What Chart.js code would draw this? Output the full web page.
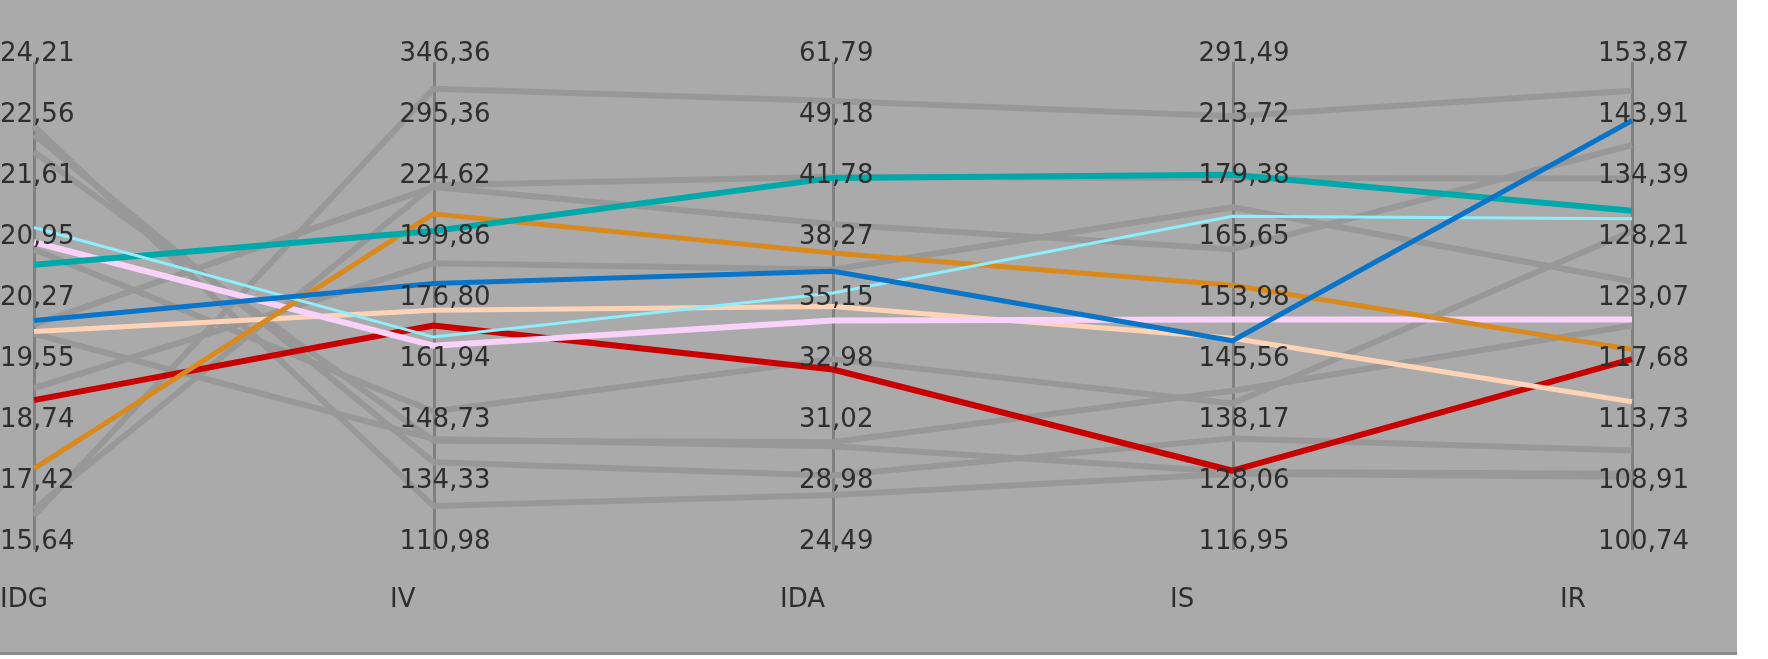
<!DOCTYPE html>
<html><head><meta charset="utf-8">
<script src="https://cdn.jsdelivr.net/npm/chart.js@4/dist/chart.umd.min.js"></script>
<style>html,body{margin:0;padding:0;background:#fff;}canvas{display:block;}</style>
</head><body>
<canvas id="c" width="1768" height="659"></canvas>
<script>
// ---- categories (parallel axes) ----
const categories = ['IDG', 'IV', 'IDA', 'IS', 'IR'];

// ---- tick labels on each axis (top to bottom) ----
const ticksIDG = [24.21, 22.56, 21.61, 20.95, 20.27, 19.55, 18.74, 17.42, 15.64];
const ticksIV  = [346.36, 295.36, 224.62, 199.86, 176.80, 161.94, 148.73, 134.33, 110.98];
const ticksIDA = [61.79, 49.18, 41.78, 38.27, 35.15, 32.98, 31.02, 28.98, 24.49];
const ticksIS  = [291.49, 213.72, 179.38, 165.65, 153.98, 145.56, 138.17, 128.06, 116.95];
const ticksIR  = [153.87, 143.91, 134.39, 128.21, 123.07, 117.68, 113.73, 108.91, 100.74];

// ---- highlighted series (IDG, IV, IDA, IS, IR) ----
const seriesTeal   = [20.73, 205.55, 42.52, 184.53, 131.67];
const seriesOrange = [17.86, 212.49, 37.86, 157.95, 119.24];
const seriesBlue   = [20.10, 185.33, 36.93, 149.18, 144.31];
const seriesRed    = [19.11, 172.04, 32.90, 131.09, 118.38];
const seriesCyan   = [21.14, 169.22, 35.81, 172.10, 130.87];
const seriesPink   = [20.98, 167.14, 34.63, 152.13, 121.88];
const seriesPeach  = [19.97, 175.76, 35.13, 149.52, 115.43];

// ---- background (grey) series ----
const grey1 = [16.64, 323.92, 53.72, 222.27, 149.19];
const grey2 = [16.83, 224.12, 42.67, 182.81, 135.25];
const grey3 = [20.05, 223.38, 39.46, 164.83, 140.48];
const grey4 = [19.27, 192.94, 37.02, 174.16, 125.13];
const grey5 = [20.90, 152.30, 33.26, 141.13, 129.63];
const grey6 = [22.11, 145.71, 30.55, 142.68, 121.35];
const grey7 = [19.94, 146.14, 30.41, 130.89, 110.12];
const grey8 = [22.38, 140.67, 29.43, 136.45, 111.95];
const grey9 = [22.51, 127.79, 28.53, 130.59, 109.87];

const axisTicks = [ticksIDG, ticksIV, ticksIDA, ticksIS, ticksIR];
const fmt = v => v.toFixed(2).replace('.', ',');

// map a value onto the axis' tick index position (piecewise between ticks)
function toPos(v, t) {
  for (let i = 0; i < t.length - 1; i++) {
    const a = t[i], b = t[i + 1];
    if (v <= a && v >= b) return i + (a - v) / (a - b);
  }
  return v > t[0] ? 0 : t.length - 1;
}
const mapSeries = s => s.map((v, i) => toPos(v, axisTicks[i]));

const greyStyle = { borderColor: '#989898', borderWidth: 6, order: 20 };
const greys = [grey1, grey2, grey3, grey4, grey5, grey6, grey7, grey8, grey9].map(s => ({
  data: mapSeries(s), ...greyStyle
}));
const coloured = [
  { data: mapSeries(seriesRed),    borderColor: '#c80000', borderWidth: 6, order: 7 },
  { data: mapSeries(seriesPeach),  borderColor: '#ffd3b6', borderWidth: 5, order: 6 },
  { data: mapSeries(seriesPink),   borderColor: '#f8d2f8', borderWidth: 6, order: 5 },
  { data: mapSeries(seriesOrange), borderColor: '#d9891e', borderWidth: 5, order: 4 },
  { data: mapSeries(seriesTeal),   borderColor: '#00a9a9', borderWidth: 6, order: 3 },
  { data: mapSeries(seriesCyan),   borderColor: '#8eeefc', borderWidth: 3, order: 2 },
  { data: mapSeries(seriesBlue),   borderColor: '#0a74c8', borderWidth: 5, order: 1 }
];

const pcPlugin = {
  id: 'pc',
  beforeDraw(chart) {
    const ctx = chart.ctx;
    ctx.save();
    ctx.fillStyle = '#ffffff'; ctx.fillRect(0, 0, chart.width, chart.height);
    ctx.fillStyle = '#aaaaaa'; ctx.fillRect(0, 0, 1737, 652);
    ctx.fillStyle = '#8c8c8c'; ctx.fillRect(0, 652, 1737, 3);
    ctx.restore();
  },
  beforeDatasetsDraw(chart) {
    const { ctx, scales: { x, y } } = chart;
    ctx.save();
    ctx.strokeStyle = '#808080'; ctx.lineWidth = 3;
    categories.forEach((c, i) => {
      const px = Math.round(x.getPixelForValue(i)) + 0.5;
      ctx.beginPath();
      ctx.moveTo(px, y.getPixelForValue(0));
      ctx.lineTo(px, y.getPixelForValue(8));
      ctx.stroke();
    });
    ctx.restore();
  },
  afterDatasetsDraw(chart) {
    const { ctx, scales: { x, y } } = chart;
    ctx.save();
    ctx.fillStyle = '#2e2e2e';
    ctx.font = '26px "DejaVu Sans"';
    ctx.textBaseline = 'alphabetic';
    ctx.textAlign = 'left';
    categories.forEach((c, i) => {
      const px = x.getPixelForValue(i);
      const left = Math.max(0, px - 34);
      axisTicks[i].forEach((t, k) => {
        ctx.fillText(fmt(t), left, y.getPixelForValue(k) - 1);
      });
      ctx.fillText(c, px - 34 - i * 9.5, y.getPixelForValue(8) + 57);
    });
    ctx.restore();
  }
};

new Chart(document.getElementById('c'), {
  type: 'line',
  data: { labels: categories, datasets: [...greys, ...coloured] },
  options: {
    responsive: false,
    animation: false,
    devicePixelRatio: 1,
    layout: { padding: { left: 34, right: 136, top: 62, bottom: 109 } },
    elements: { point: { radius: 0 }, line: { tension: 0, borderJoinStyle: 'round', fill: false } },
    plugins: { legend: { display: false }, tooltip: { enabled: false } },
    scales: {
      x: { type: 'category', display: false, offset: false },
      y: { type: 'linear', display: false, reverse: true, min: 0, max: 8 }
    }
  },
  plugins: [pcPlugin]
});
</script>
</body></html>
